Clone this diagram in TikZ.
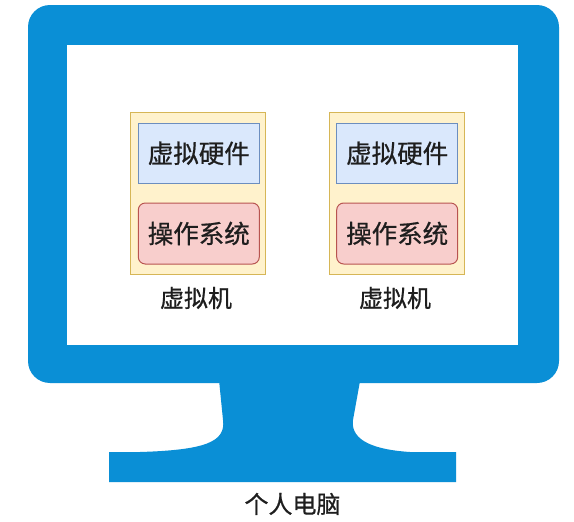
\documentclass[tikz,border=0pt]{standalone}
\usepackage{fontspec}
\newfontfamily\cjk[FakeBold=0.7]{Noto Sans CJK SC}
\definecolor{monblue}{HTML}{0A8FD6}
\definecolor{vmfill}{HTML}{FFF2CC}
\definecolor{vmline}{HTML}{D6B656}
\definecolor{hwfill}{HTML}{DAE8FC}
\definecolor{hwline}{HTML}{6C8EBF}
\definecolor{osfill}{HTML}{F8CECC}
\definecolor{osline}{HTML}{B85450}
\definecolor{txt}{HTML}{1E1E1E}
\tikzset{
  vmbox/.style={draw=vmline, fill=vmfill, line width=1pt, minimum width=135pt, minimum height=162pt, inner sep=0pt},
  hwbox/.style={draw=hwline, fill=hwfill, line width=1pt, minimum width=121pt, minimum height=60pt, inner sep=0pt, font=\cjk\fontsize{25.5}{30}\selectfont, text=txt},
  osbox/.style={draw=osline, fill=osfill, line width=1pt, rounded corners=7pt, minimum width=121pt, minimum height=61pt, inner sep=0pt, font=\cjk\fontsize{25.5}{30}\selectfont, text=txt},
  lbl/.style={font=\cjk\fontsize{24}{28}\selectfont, text=txt, inner sep=0pt}
}
\begin{document}
\begin{tikzpicture}[x=1pt,y=-1pt]
\useasboundingbox (0,0) rectangle (574,522);
\fill[white] (0,0) rectangle (574,522);
% stand
\fill[monblue] (218,370) -- (223,420) .. controls (226,442) and (205,450) .. (140,452)
  -- (109,452) -- (109,482) -- (456,482) -- (456,452) -- (410,452)
  .. controls (378,450) and (350,442) .. (353,420) -- (362,370) -- cycle;
% monitor frame
\fill[monblue, rounded corners=22pt] (28,5) rectangle (559,383);
\fill[white] (67,45) rectangle (518,345);
% VM 1
\node[vmbox] (vm1) at (198.4,193.9) {};
\node[hwbox] (hw1) at (198.8,153.3) {虚拟硬件};
\node[osbox] (os1) at (198.8,233.5) {操作系统};
\node[lbl] (vl1) at (196,298) {虚拟机};
% VM 2
\node[vmbox] (vm2) at (396.5,193.9) {};
\node[hwbox] (hw2) at (397.2,153.3) {虚拟硬件};
\node[osbox] (os2) at (397.2,233.5) {操作系统};
\node[lbl] (vl2) at (395,298) {虚拟机};
% label
\node[lbl] (pc) at (292.5,504) {个人电脑};
\end{tikzpicture}
\end{document}
